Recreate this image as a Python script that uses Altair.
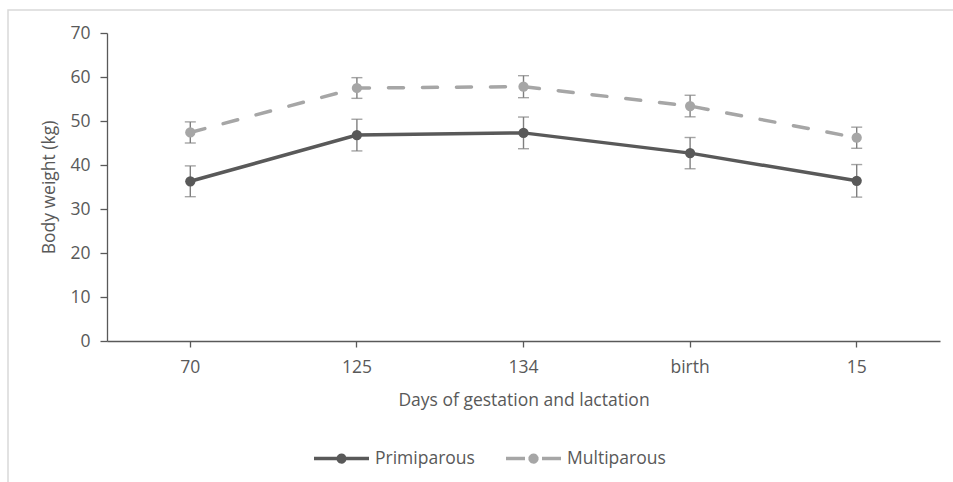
import altair as alt
import pandas as pd

days = ["70", "125", "134", "birth", "15"]
series = ["Primiparous", "Multiparous"]
primi_mean = [36.3, 46.8, 47.3, 42.7, 36.4]
primi_se = [3.5, 3.6, 3.6, 3.55, 3.7]
multi_mean = [47.4, 57.5, 57.8, 53.4, 46.2]
multi_se = [2.4, 2.35, 2.5, 2.45, 2.4]

rows = []
for s, means, ses in [("Primiparous", primi_mean, primi_se), ("Multiparous", multi_mean, multi_se)]:
    for d, m, e in zip(days, means, ses):
        rows.append({"day": d, "series": s, "value": m, "lo": m - e, "hi": m + e})
df = pd.DataFrame(rows)

FONT = "Open Sans"
FS = 17.5
TXT = "#595959"
colors = ["#595959", "#A6A6A6"]
cscale = alt.Scale(domain=series, range=colors)
DASH = [15, 19]

x = alt.X("day:N", sort=days, scale=alt.Scale(paddingInner=0, paddingOuter=0),
          axis=alt.Axis(title="Days of gestation and lactation", labelAngle=0,
                        labelPadding=11, titlePadding=16, tickSize=6,
                        domainColor="#595959", tickColor="#595959", domainWidth=1.3, tickWidth=1.3))
y_axis = alt.Axis(title="Body weight (kg)", values=[0, 10, 20, 30, 40, 50, 60, 70],
                  grid=False, tickSize=7, labelPadding=10, titlePadding=11,
                  domainColor="#595959", tickColor="#595959", domainWidth=1.3, tickWidth=1.3)
yscale = alt.Scale(domain=[0, 70], nice=False, zero=True)

base = alt.Chart(df)

border = alt.Chart(pd.DataFrame({"a": [0]})).mark_rect(
    fill=None, stroke="#d9d9d9", strokeWidth=1.5
).encode(x=alt.value(-99), x2=alt.value(900), y=alt.value(-23), y2=alt.value(600))

err = base.mark_rule(color="#7f7f7f", strokeWidth=1.4).encode(
    x=x, y=alt.Y("lo:Q", scale=yscale, axis=y_axis), y2="hi:Q")
cap_lo = base.mark_tick(color="#7f7f7f", thickness=1.4, size=11, orient="horizontal").encode(
    x=x, y=alt.Y("lo:Q", scale=yscale))
cap_hi = base.mark_tick(color="#7f7f7f", thickness=1.4, size=11, orient="horizontal").encode(
    x=x, y=alt.Y("hi:Q", scale=yscale))

# legend symbol: line + dot (dot split in two half arcs so a dash pattern cannot break it)
circle = ("M-0.12,0 A0.12,0.12 0 0,0 0.12,0 Z "
          "M0.12,0 A0.12,0.12 0 0,0 -0.12,0 Z")
P1 = "M-1,0 L1,0 " + circle
P2 = "M-1,0 L-0.31,0 M1,0 L0.31,0 " + circle

legend = alt.Legend(
    title=None, orient="none", legendX=205, legendY=396, direction="horizontal",
    symbolSize=3025, symbolStrokeWidth=3.5, labelFontSize=FS, labelFont=FONT,
    labelColor=TXT, labelOffset=4, columnPadding=24, symbolDash=[1, 0],
    symbolType=alt.ExprRef(expr="datum.value === 'Primiparous' ? '" + P1 + "' : '" + P2 + "'"),
    symbolFillColor=alt.ExprRef(expr="datum.value === 'Primiparous' ? '#595959' : '#A6A6A6'"),
)

line_p = base.transform_filter(alt.datum.series == "Primiparous").mark_line(
    strokeWidth=3.5, strokeCap="round").encode(
    x=x, y=alt.Y("value:Q", scale=yscale),
    color=alt.Color("series:N", scale=cscale, legend=legend),
)
line_m = base.transform_filter(alt.datum.series == "Multiparous").mark_line(
    strokeWidth=3.5, strokeCap="round", strokeDash=DASH).encode(
    x=x, y=alt.Y("value:Q", scale=yscale),
    color=alt.Color("series:N", scale=cscale, legend=legend),
)
points = base.mark_point(filled=True, size=105, opacity=1).encode(
    x=x, y=alt.Y("value:Q", scale=yscale),
    color=alt.Color("series:N", scale=cscale, legend=None),
)

chart = alt.layer(border, err, cap_lo, cap_hi, line_p, line_m, points).properties(
    width=833, height=308,
    autosize=alt.AutoSizeParams(type="none"),
    padding={"left": 107, "top": 33, "right": 13, "bottom": 141},
    background="white",
).configure_view(stroke=None).configure_axis(
    labelFont=FONT, titleFont=FONT, labelFontSize=FS, titleFontSize=FS,
    labelColor=TXT, titleColor=TXT, titleFontWeight="normal", grid=False,
)

chart.save("out.html", embed_options={"renderer": "svg", "actions": False})
